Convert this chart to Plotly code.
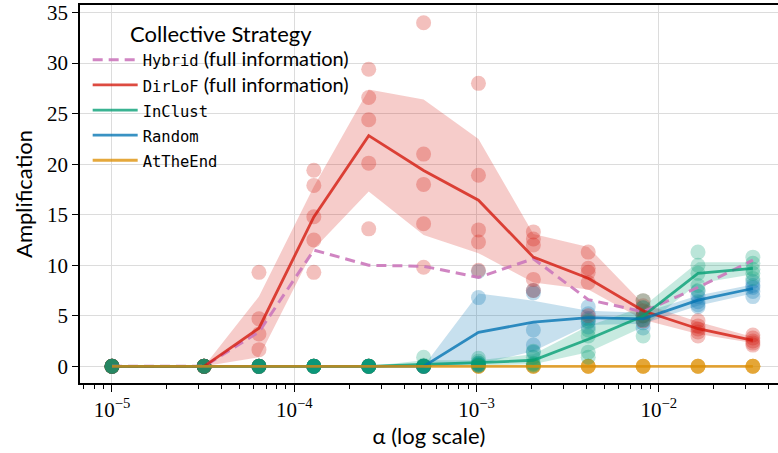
import plotly.graph_objects as go
import numpy as np

# alpha values (x axis, log scale)
alphas = [1e-5, 3.2e-5, 6.4e-5, 1.28e-4, 2.56e-4, 5.12e-4,
          1.024e-3, 2.048e-3, 4.096e-3, 8.192e-3, 1.6384e-2, 3.2768e-2]

# individual runs per alpha (5 runs each)
dirlof_runs = [
    [0, 0, 0, 0, 0],
    [0, 0, 0, 0, 0],
    [9.3, 4.7, 3.2, 1.65, 0],
    [19.4, 17.9, 14.8, 12.5, 9.3],
    [29.4, 26.6, 24.4, 20.1, 13.6],
    [34.0, 21.0, 18.0, 14.1, 9.8],
    [28.0, 18.9, 13.5, 12.3, 9.5],
    [13.3, 12.6, 12.0, 8.6, 7.5],
    [11.3, 9.7, 9.3, 8.3, 5.0],
    [6.5, 6.0, 5.5, 5.0, 4.5],
    [4.5, 4.0, 3.7, 3.4, 3.0],
    [3.1, 2.8, 2.5, 2.3, 2.1],
]
inclust_runs = [
    [0, 0, 0, 0, 0],
    [0, 0, 0, 0, 0],
    [0, 0, 0, 0, 0],
    [0, 0, 0, 0, 0],
    [0, 0, 0, 0, 0],
    [0.9, 0.1, 0, 0, 0],
    [0.8, 0.5, 0.3, 0.1, 0.1],
    [1.5, 0.9, 0.3, 0.2, 0.1],
    [4.5, 3.6, 3.0, 1.4, 0.9],
    [6.5, 5.8, 5.0, 4.6, 3.0],
    [11.3, 10.0, 9.2, 8.0, 7.5],
    [10.8, 10.2, 9.6, 9.2, 8.7],
]
random_runs = [
    [0, 0, 0, 0, 0],
    [0, 0, 0, 0, 0],
    [0, 0, 0, 0, 0],
    [0, 0, 0, 0, 0],
    [0, 0, 0, 0, 0],
    [0, 0, 0, 0, 0],
    [9.4, 6.8, 0.3, 0.2, 0.1],
    [7.5, 7.25, 3.6, 2.1, 1.4],
    [5.9, 5.2, 4.7, 4.4, 3.9],
    [5.8, 5.0, 4.6, 4.3, 3.8],
    [7.4, 6.9, 6.4, 6.1, 5.9],
    [8.4, 8.0, 7.8, 7.4, 6.9],
]
attheend_runs = [[0, 0, 0, 0, 0] for _ in alphas]

# hybrid has only a mean curve
hybrid_mean = [0, 0, 3.4, 11.5, 10.0, 9.9, 8.8, 10.65, 6.6, 5.4, 7.8, 10.5]

# confidence bands
dirlof_lo = [0, 0, 0.9, 11.6, 17.3, 13.0, 11.2, 8.3, 7.6, 4.6, 3.2, 2.3]
dirlof_hi = [0, 0, 6.9, 17.8, 27.4, 26.4, 22.5, 13.1, 11.8, 6.2, 4.4, 2.9]
inclust_lo = [0, 0, 0, 0, 0, 0, 0.1, 0.2, 1.4, 3.9, 8.2, 9.1]
inclust_hi = [0, 0, 0, 0, 0, 0.6, 0.6, 1.2, 4.0, 5.9, 10.3, 10.3]
random_lo = [0, 0, 0, 0, 0, 0, 0.2, 1.5, 4.1, 4.2, 6.0, 7.2]
random_hi = [0, 0, 0, 0, 0, 0, 7.2, 6.5, 5.5, 5.3, 7.0, 8.1]

HYBRID = "#cc78bc"
DIRLOF = "#d4180c"
INCLUST = "#029e73"
RANDOM = "#0173b2"
ATTHEEND = "#de8f05"

SANS = "Lato"
MONO = "DejaVu Sans Mono"
SERIF = "Liberation Serif"


def rgba(hex_color, a):
    h = hex_color.lstrip("#")
    r, g, b = int(h[0:2], 16), int(h[2:4], 16), int(h[4:6], 16)
    return f"rgba({r},{g},{b},{a})"


def entry(name, extra=""):
    label = f'<span style="font-family:{MONO};font-size:15.5px">{name}</span>'
    if extra:
        label += f'<span style="font-size:20px">{extra}</span>'
    return label


fig = go.Figure()

# bands
for lo, hi, color in [(dirlof_lo, dirlof_hi, DIRLOF),
                      (random_lo, random_hi, RANDOM),
                      (inclust_lo, inclust_hi, INCLUST)]:
    fig.add_trace(go.Scatter(x=alphas, y=hi, mode="lines", line=dict(width=0),
                             showlegend=False, hoverinfo="skip"))
    fig.add_trace(go.Scatter(x=alphas, y=lo, mode="lines", line=dict(width=0),
                             fill="tonexty", fillcolor=rgba(color, 0.22),
                             showlegend=False, hoverinfo="skip"))

# individual runs
for runs, color in [(attheend_runs, ATTHEEND), (random_runs, RANDOM),
                    (dirlof_runs, DIRLOF), (inclust_runs, INCLUST)]:
    xs, ys = [], []
    for a, vals in zip(alphas, runs):
        for v in vals:
            xs.append(a)
            ys.append(v)
    fig.add_trace(go.Scatter(x=xs, y=ys, mode="markers",
                             marker=dict(size=15, color=color, opacity=0.27, line=dict(width=0)),
                             showlegend=False, hoverinfo="skip"))

# mean lines
fig.add_trace(go.Scatter(x=alphas, y=hybrid_mean, mode="lines",
                         line=dict(color=HYBRID, width=3, dash="10px,6px"),
                         opacity=0.9, name=entry("Hybrid", " (full information)")))
for runs, color, name in [(dirlof_runs, DIRLOF, entry("DirLoF", " (full information)")),
                          (inclust_runs, INCLUST, entry("InClust")),
                          (random_runs, RANDOM, entry("Random")),
                          (attheend_runs, ATTHEEND, entry("AtTheEnd"))]:
    fig.add_trace(go.Scatter(x=alphas, y=np.mean(runs, axis=1), mode="lines",
                             line=dict(color=color, width=2.8),
                             opacity=0.78, name=name))

fig.update_layout(
    width=778,
    height=453,
    margin=dict(l=80, r=0, t=5, b=70),
    paper_bgcolor="white",
    plot_bgcolor="white",
    font=dict(family=SANS, size=17, color="black"),
    showlegend=True,
    legend=dict(
        title=dict(text="Collective Strategy", font=dict(family=SANS, size=22), side="top center"),
        font=dict(family=SANS, size=17, color="black"),
        x=0.011, y=0.977, xanchor="left", yanchor="top",
        bgcolor="rgba(0,0,0,0)",
        traceorder="normal",
        itemwidth=45,
    ),
    xaxis=dict(
        type="log",
        range=[-5.1755, -1.3467],
        tickvals=[1e-5, 1e-4, 1e-3, 1e-2],
        ticktext=["10<sup>−5</sup>", "10<sup>−4</sup>", "10<sup>−3</sup>", "10<sup>−2</sup>"],
        tickfont=dict(family=SERIF, size=21),
        ticks="outside", ticklen=7, tickwidth=1.2, tickcolor="black",
        minor=dict(dtick="D1", ticks="outside", ticklen=4, tickwidth=1, tickcolor="black", showgrid=False),
        showline=True, linecolor="black", linewidth=1.5, mirror=True,
        showgrid=True, gridcolor="#dcdcdc", gridwidth=1.3,
        title=dict(text="α (log scale)", font=dict(family=SANS, size=22), standoff=8),
        zeroline=False,
        automargin=False,
    ),
    yaxis=dict(
        range=[-1.65, 35.75],
        tickvals=[0, 5, 10, 15, 20, 25, 30, 35],
        tickfont=dict(family=SERIF, size=21),
        ticks="outside", ticklen=6, tickwidth=1.2, tickcolor="black",
        showline=True, linecolor="black", linewidth=1.5,
        showgrid=True, gridcolor="#dcdcdc", gridwidth=1.3,
        title=dict(text="Amplification", font=dict(family=SANS, size=22), standoff=8),
        zeroline=False,
        automargin=False,
    ),
)

# drop the default page margin so the figure sits at the window's top-left corner
fig.write_html("out.html", config={"displayModeBar": False},
               post_script="document.body.style.margin='0';")
